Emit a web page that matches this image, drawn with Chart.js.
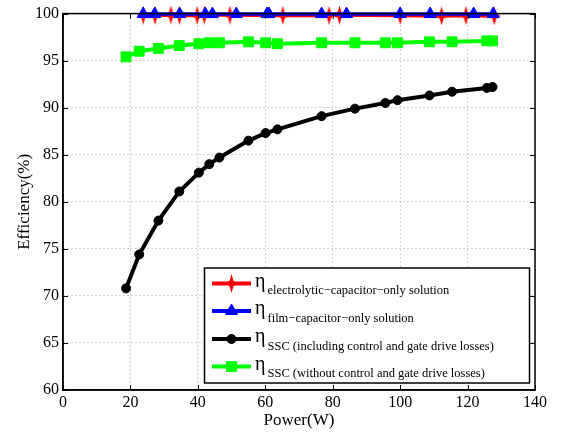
<!DOCTYPE html>
<html>
<head>
<meta charset="utf-8">
<script src="https://cdn.jsdelivr.net/npm/chart.js@4.4.1/dist/chart.umd.min.js"></script>
<style>
  html, body { margin: 0; padding: 0; background: #fff; }
  #wrap { width: 562px; height: 439px; position: relative; }
</style>
</head>
<body>
<div id="wrap"><canvas id="grafico"></canvas></div>
<script>
// potencia (W) y eficiencia (%) de cada solucion
const potElectrolitico = [23.8, 27.3, 32.0, 34.5, 39.8, 41.9, 49.5, 65.2, 78.9, 82.0, 100.0, 112.3, 119.5, 127.9];
const efElectrolitico  = [99.85, 99.8, 99.85, 99.8, 99.8, 99.85, 99.85, 99.8, 99.8, 99.85, 99.8, 99.75, 99.8, 99.75];

const potFilm = [23.8, 27.2, 34.6, 42.2, 44.3, 51.4, 60.5, 61.1, 76.7, 84.1, 100.0, 108.9, 121.8, 127.6];
const efFilm  = [99.95, 99.95, 99.95, 99.95, 99.95, 99.95, 99.95, 99.95, 99.95, 99.95, 99.95, 99.95, 99.95, 99.95];

const potSSC = [18.7, 22.6, 28.3, 34.5, 40.3, 43.4, 46.4, 55.0, 60.1, 63.6, 76.7, 86.6, 95.6, 99.2, 108.7, 115.4, 125.7, 127.4];
const efSSCcon = [70.8, 74.4, 78.0, 81.1, 83.1, 84.0, 84.7, 86.5, 87.3, 87.7, 89.1, 89.9, 90.5, 90.8, 91.3, 91.7, 92.1, 92.2];
const efSSCsin = [95.4, 96.0, 96.3, 96.6, 96.8, 96.9, 96.9, 97.0, 96.9, 96.8, 96.9, 96.9, 96.9, 96.9, 97.0, 97.0, 97.1, 97.1];

const ticksX = [0, 20, 40, 60, 80, 100, 120, 140];
const ticksY = [60, 65, 70, 75, 80, 85, 90, 95, 100];

const leyendas = [
  "electrolytic\u2212capacitor\u2212only solution",
  "film\u2212capacitor\u2212only solution",
  "SSC (including control and gate drive losses)",
  "SSC (without control and gate drive losses)"
];

const fuente = "'Liberation Serif', 'Times New Roman', serif";

// marcador estrella de 4 puntas (rojo)
const estrella = (() => {
  const c = document.createElement("canvas");
  c.width = 13; c.height = 19;
  const g = c.getContext("2d");
  const cx = 6.5, cy = 9.5;
  g.fillStyle = "#ff0000";
  g.beginPath();
  g.moveTo(cx, 0);
  g.lineTo(cx + 2, cy - 2.5);
  g.lineTo(13, cy);
  g.lineTo(cx + 2, cy + 2.5);
  g.lineTo(cx, 19);
  g.lineTo(cx - 2, cy + 2.5);
  g.lineTo(0, cy);
  g.lineTo(cx - 2, cy - 2.5);
  g.closePath();
  g.fill();
  return c;
})();

const aPuntos = (xs, ys) => xs.map((x, i) => ({ x: x, y: ys[i] }));

const series = [
  { label: leyendas[0], data: aPuntos(potElectrolitico, efElectrolitico), borderColor: "#ff0000", backgroundColor: "#ff0000",
    borderWidth: 3.5, pointStyle: estrella, pointRadius: 7, order: 1 },
  { label: leyendas[1], data: aPuntos(potFilm, efFilm), borderColor: "#0000ff", backgroundColor: "#0000ff",
    borderWidth: 3.5, pointStyle: "triangle", pointRadius: 7, pointBorderWidth: 1, order: 0 },
  { label: leyendas[2], data: aPuntos(potSSC, efSSCcon), borderColor: "#000000", backgroundColor: "#000000",
    borderWidth: 4, pointStyle: "circle", pointRadius: 4.5, pointBorderWidth: 1, order: 2 },
  { label: leyendas[3], data: aPuntos(potSSC, efSSCsin), borderColor: "#00ff00", backgroundColor: "#00ff00",
    borderWidth: 4, pointStyle: "rect", pointRadius: 7, pointBorderWidth: 1, order: 3 }
];

// caja, marcas hacia adentro y leyenda estilo matlab
const marcoMatlab = {
  id: "marcoMatlab",
  afterDatasetsDraw(chart) {
    const ctx = chart.ctx;
    const a = chart.chartArea;
    const sx = chart.scales.x, sy = chart.scales.y;
    ctx.save();
    ctx.strokeStyle = "#000";
    ctx.lineWidth = 1.5;
    ctx.strokeRect(a.left, a.top, a.right - a.left, a.bottom - a.top);
    ctx.lineWidth = 1;
    ctx.beginPath();
    ticksX.forEach(v => {
      const px = Math.round(sx.getPixelForValue(v)) + 0.5;
      ctx.moveTo(px, a.bottom); ctx.lineTo(px, a.bottom - 5);
      ctx.moveTo(px, a.top); ctx.lineTo(px, a.top + 5);
    });
    ticksY.forEach(v => {
      const py = Math.round(sy.getPixelForValue(v)) + 0.5;
      ctx.moveTo(a.left, py); ctx.lineTo(a.left + 5, py);
      ctx.moveTo(a.right, py); ctx.lineTo(a.right - 5, py);
    });
    ctx.stroke();

    // leyenda
    const lx = 204.5, ly = 268, lw = 325, lh = 115;
    ctx.fillStyle = "#fff";
    ctx.fillRect(lx, ly, lw, lh);
    ctx.lineWidth = 1.5;
    ctx.strokeRect(lx, ly, lw, lh);
    const filas = [283.5, 311, 339, 366.5];
    chart.data.datasets.forEach((ds, i) => {
      const y = filas[i];
      ctx.strokeStyle = ds.borderColor;
      ctx.lineWidth = 4;
      ctx.beginPath();
      ctx.moveTo(212, y); ctx.lineTo(251, y);
      ctx.stroke();
      const st = ds.pointStyle;
      ctx.fillStyle = ds.backgroundColor;
      ctx.lineWidth = 1;
      if (st instanceof HTMLCanvasElement) {
        ctx.drawImage(st, 231.5 - st.width / 2, y - st.height / 2);
      } else {
        Chart.helpers.drawPoint(ctx, { pointStyle: st, radius: ds.pointRadius, borderWidth: 1, rotation: 0 }, 231.5, y);
      }
      ctx.fillStyle = "#000";
      ctx.textBaseline = "alphabetic";
      ctx.textAlign = "left";
      ctx.font = "20px " + fuente;
      ctx.fillText("\u03b7", 255, y + 3);
      ctx.font = "12.5px " + fuente;
      ctx.fillText(ds.label, 267.5, y + 10.5);
    });
    ctx.restore();
  }
};

const ctx = document.querySelector("#grafico").getContext("2d");
const miGrafico = new Chart(ctx, {
  type: "line",
  data: { datasets: series },
  options: {
    responsive: true,
    maintainAspectRatio: false,
    animation: false,
    devicePixelRatio: 1,
    clip: false,
    layout: { padding: { top: 12.5, right: 27, left: 0, bottom: 0 } },
    elements: { line: { tension: 0 } },
    plugins: { legend: { display: false }, tooltip: { enabled: false } },
    scales: {
      x: {
        type: "linear",
        min: 0, max: 140,
        afterBuildTicks: s => { s.ticks = ticksX.map(v => ({ value: v })); },
        afterFit: s => { s.height = 49; },
        grid: { color: "#a8a8a8", lineWidth: 1, drawTicks: false },
        border: { display: true, color: "#000", width: 1.5, dash: [1, 3] },
        ticks: { autoSkip: false, maxRotation: 0, padding: 3, color: "#000", font: { family: fuente, size: 16 } },
        title: { display: true, text: "Power(W)", color: "#000", font: { family: fuente, size: 17 }, padding: { top: 0, bottom: 8 } }
      },
      y: {
        type: "linear",
        min: 60, max: 100,
        afterBuildTicks: s => { s.ticks = ticksY.map(v => ({ value: v })); },
        afterFit: s => { s.width = 63; },
        grid: { color: "#a8a8a8", lineWidth: 1, drawTicks: false },
        border: { display: true, color: "#000", width: 1.5, dash: [1, 3] },
        ticks: { autoSkip: false, padding: 4, color: "#000", font: { family: fuente, size: 16 } },
        title: { display: true, text: "Efficiency(%)", color: "#000", font: { family: fuente, size: 17 }, padding: { top: 14, bottom: 0 } }
      }
    }
  },
  plugins: [marcoMatlab]
});
</script>
</body>
</html>
